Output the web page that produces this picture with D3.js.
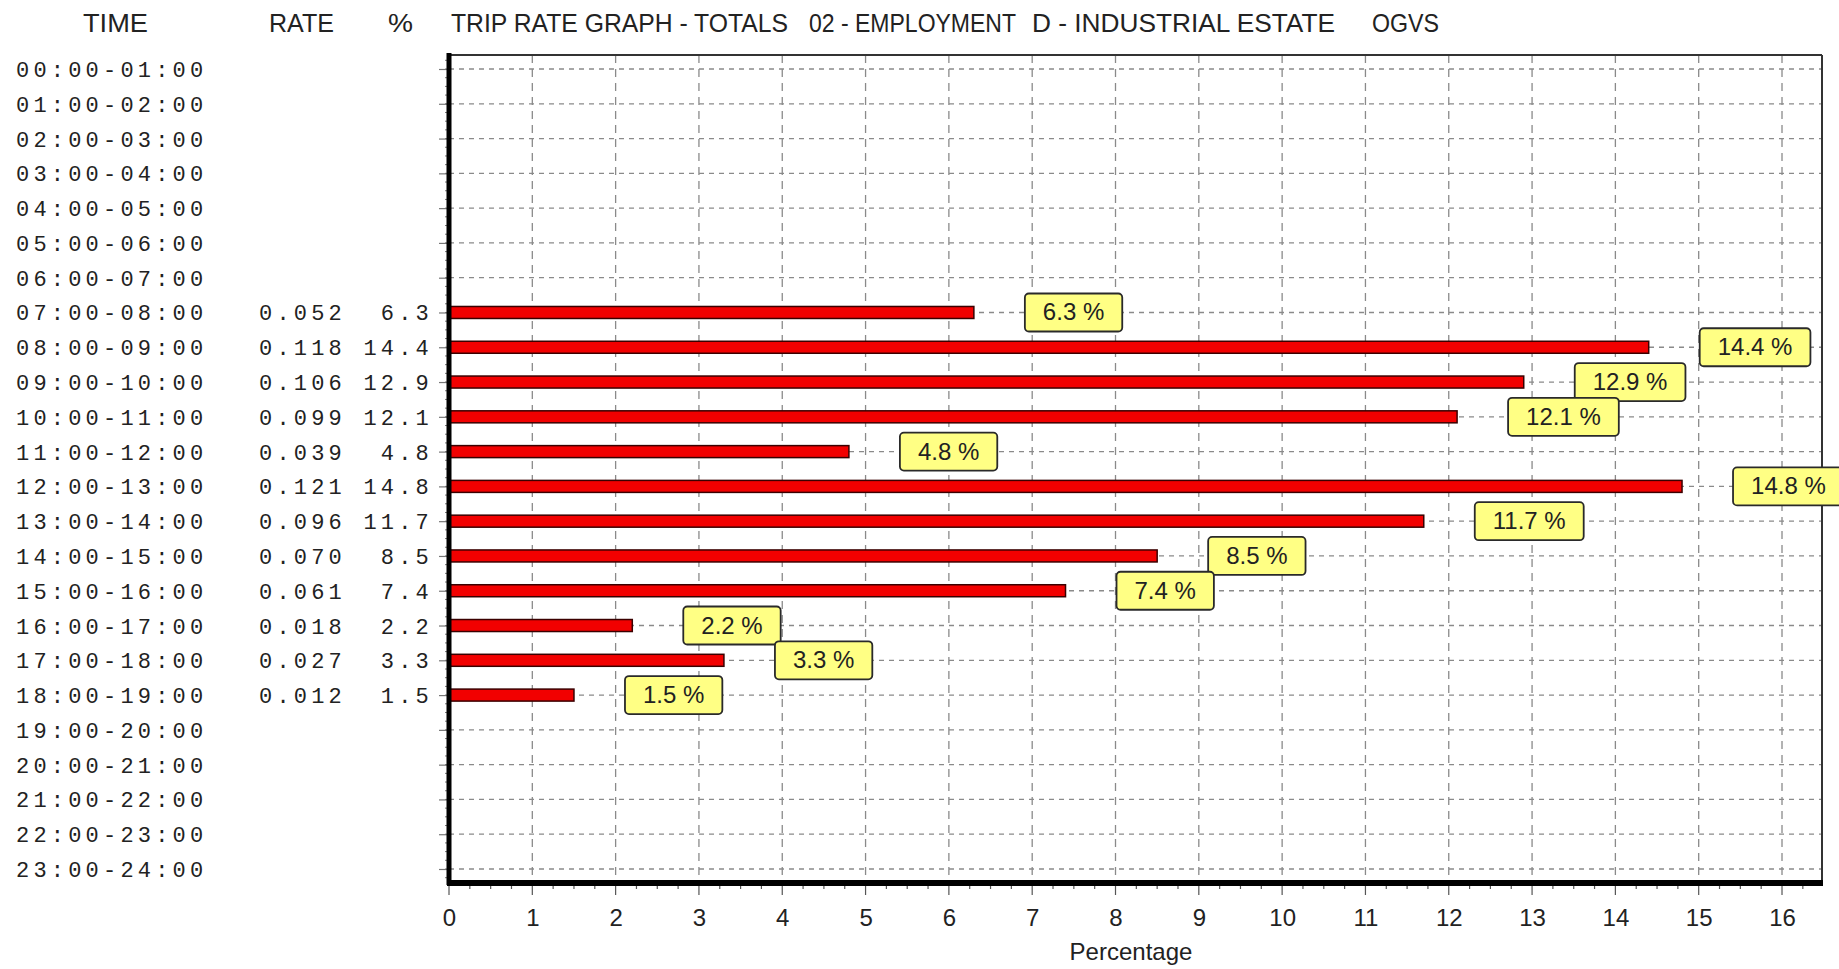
<!DOCTYPE html>
<html>
<head>
<meta charset="utf-8">
<script src="https://cdn.jsdelivr.net/npm/d3@7"></script>
<style>
  body { margin: 0; background: #ffffff; }
  .mono { font-family: "Liberation Mono", "DejaVu Sans Mono", monospace; font-size: 22px; letter-spacing: 4.2px; fill: #222; }
  .head { font-family: "Liberation Sans", sans-serif; font-size: 26px; fill: #222; }
  .tick { font-family: "Liberation Sans", sans-serif; font-size: 24px; fill: #222; }
  .lab { font-family: "Liberation Sans", Arial, sans-serif; font-size: 24px; fill: #222; }
</style>
</head>
<body>
<div id="chart"></div>
<script>
var times = ["00:00-01:00","01:00-02:00","02:00-03:00","03:00-04:00","04:00-05:00","05:00-06:00",
             "06:00-07:00","07:00-08:00","08:00-09:00","09:00-10:00","10:00-11:00","11:00-12:00",
             "12:00-13:00","13:00-14:00","14:00-15:00","15:00-16:00","16:00-17:00","17:00-18:00",
             "18:00-19:00","19:00-20:00","20:00-21:00","21:00-22:00","22:00-23:00","23:00-24:00"];
var rates = [null,null,null,null,null,null,null,"0.052","0.118","0.106","0.099","0.039",
             "0.121","0.096","0.070","0.061","0.018","0.027","0.012",null,null,null,null,null];
var percents = [null,null,null,null,null,null,null,6.3,14.4,12.9,12.1,4.8,
                14.8,11.7,8.5,7.4,2.2,3.3,1.5,null,null,null,null,null];
var xTicks = [0,1,2,3,4,5,6,7,8,9,10,11,12,13,14,15,16];
var titleParts = [
    {text: "TIME", x0: 83, x1: 148},
    {text: "RATE", x0: 269, x1: 334},
    {text: "%", x0: 388, x1: 413},
    {text: "TRIP RATE GRAPH - TOTALS", x0: 451, x1: 788},
    {text: "02 - EMPLOYMENT", x0: 809, x1: 1016},
    {text: "D - INDUSTRIAL ESTATE", x0: 1032, x1: 1335},
    {text: "OGVS", x0: 1372, x1: 1439}
];

function init() {
    var w = 1839;
    var h = 969;
    var left = 449, right = 1822, top = 55, bottom = 883;

    var svg = d3.select("#chart")
                .append("svg")
                .attr("width", w)
                .attr("height", h);

    var xScale = d3.scaleLinear()
            .domain([0, 16.48])
            .range([left, right]);

    var yScale = d3.scalePoint()
            .domain(times)
            .range([69, 869]);

    var rows = times.map(function(t, i) {
        return { time: t, rate: rates[i], pct: percents[i] };
    });

    // header texts
    svg.selectAll(".head")
        .data(titleParts)
        .enter().append("text")
        .attr("class", "head")
        .attr("x", function(d) { return d.x0; })
        .attr("y", 32)
        .attr("textLength", function(d) { return d.x1 - d.x0; })
        .attr("lengthAdjust", "spacingAndGlyphs")
        .text(function(d) { return d.text; });

    // grid lines
    svg.append("g").selectAll("line")
        .data(xTicks.slice(1))
        .enter().append("line")
        .attr("x1", function(d) { return xScale(d); })
        .attr("x2", function(d) { return xScale(d); })
        .attr("y1", top)
        .attr("y2", bottom)
        .attr("stroke", "#8a8a8a")
        .attr("stroke-width", 1.3)
        .attr("stroke-dasharray", "8,6");

    svg.append("g").selectAll("line")
        .data(times)
        .enter().append("line")
        .attr("x1", left)
        .attr("x2", right)
        .attr("y1", function(d) { return yScale(d); })
        .attr("y2", function(d) { return yScale(d); })
        .attr("stroke", "#8a8a8a")
        .attr("stroke-width", 1.3)
        .attr("stroke-dasharray", "5,5");

    // frame top/right
    svg.append("line").attr("x1", left).attr("x2", right).attr("y1", top).attr("y2", top)
        .attr("stroke", "#333").attr("stroke-width", 2);
    svg.append("line").attr("x1", right).attr("x2", right).attr("y1", top).attr("y2", bottom)
        .attr("stroke", "#333").attr("stroke-width", 2);

    // x axis
    var minor = d3.range(0, 16.5, 0.25);
    svg.append("g").selectAll("line")
        .data(minor)
        .enter().append("line")
        .attr("x1", function(d) { return xScale(d); })
        .attr("x2", function(d) { return xScale(d); })
        .attr("y1", bottom)
        .attr("y2", function(d) { return bottom + (d % 1 === 0 ? 12 : 6); })
        .attr("stroke", "#555")
        .attr("stroke-width", 1.2);

    var xAxis = d3.axisBottom(xScale).tickValues(xTicks).tickSize(0).tickPadding(35)
                  .tickFormat(d3.format("d"));
    var gx = svg.append("g")
        .attr("transform", "translate(0," + bottom + ")")
        .call(xAxis);
    gx.select(".domain").remove();
    gx.selectAll("text").attr("class", "tick").attr("font-size", null).attr("font-family", null)
        .attr("fill", null).attr("dy", "0.35em");

    svg.append("text")
        .attr("class", "tick")
        .attr("x", 1131)
        .attr("y", 960)
        .attr("text-anchor", "middle")
        .text("Percentage");

    // y axis ticks
    var step = yScale.step();
    var yMinor = d3.range(0, 24 * 4 + 1).map(function(i) { return 69 - step / 2 + i * step / 4; })
        .filter(function(y) { return y > top && y < bottom; });
    svg.append("g").selectAll("line")
        .data(yMinor)
        .enter().append("line")
        .attr("x1", left - 4).attr("x2", left)
        .attr("y1", function(d) { return d; })
        .attr("y2", function(d) { return d; })
        .attr("stroke", "#777").attr("stroke-width", 1);

    var yAxis = d3.axisLeft(yScale).tickSize(10).tickFormat("");
    var gy = svg.append("g")
        .attr("transform", "translate(" + left + ",0)")
        .call(yAxis);
    gy.select(".domain").remove();
    gy.selectAll("line").attr("stroke", "#777").attr("stroke-width", 1.2);

    // bars
    var data = rows.filter(function(d) { return d.pct !== null; });
    svg.append("g").selectAll("rect")
        .data(data)
        .enter().append("rect")
        .attr("x", xScale(0))
        .attr("y", function(d) { return yScale(d.time) - 6; })
        .attr("width", function(d) { return xScale(d.pct) - xScale(0); })
        .attr("height", 12)
        .attr("fill", "#f20000")
        .attr("stroke", "#3a0000")
        .attr("stroke-width", 1.5);

    // axis lines (thick)
    svg.append("line").attr("x1", left).attr("x2", left).attr("y1", top - 2).attr("y2", bottom + 2)
        .attr("stroke", "#000").attr("stroke-width", 5);
    svg.append("line").attr("x1", left - 2).attr("x2", right + 1).attr("y1", bottom).attr("y2", bottom)
        .attr("stroke", "#000").attr("stroke-width", 6);

    // value labels
    var labels = svg.append("g").selectAll("g")
        .data(data)
        .enter().append("g");
    labels.each(function(d) {
        var g = d3.select(this);
        var cy = yScale(d.time);
        var x0 = xScale(d.pct) + 51;
        var rect = g.append("rect");
        var t = g.append("text")
            .attr("class", "lab")
            .attr("y", cy + 8)
            .text(d3.format(".1f")(d.pct) + " %");
        var tw = t.node().getComputedTextLength();
        var bw = tw + 36;
        rect.attr("x", x0).attr("y", cy - 19)
            .attr("width", bw).attr("height", 38)
            .attr("rx", 4)
            .attr("fill", "#ffff84")
            .attr("stroke", "#2a2a2a")
            .attr("stroke-width", 1.8);
        t.attr("x", x0 + bw / 2).attr("text-anchor", "middle");
    });

    // left table
    var table = svg.append("g");
    table.selectAll(".tm")
        .data(rows)
        .enter().append("text")
        .attr("class", "mono")
        .attr("x", 16)
        .attr("y", function(d) { return yScale(d.time) + 8; })
        .text(function(d) { return d.time; });
    table.selectAll(".rt")
        .data(data)
        .enter().append("text")
        .attr("class", "mono")
        .attr("x", 259)
        .attr("y", function(d) { return yScale(d.time) + 8; })
        .text(function(d) { return d.rate; });
    table.selectAll(".pc")
        .data(data)
        .enter().append("text")
        .attr("class", "mono")
        .attr("x", 433)
        .attr("y", function(d) { return yScale(d.time) + 8; })
        .attr("text-anchor", "end")
        .text(function(d) { return d3.format(".1f")(d.pct); });
}
window.onload = init;
</script>
</body>
</html>
